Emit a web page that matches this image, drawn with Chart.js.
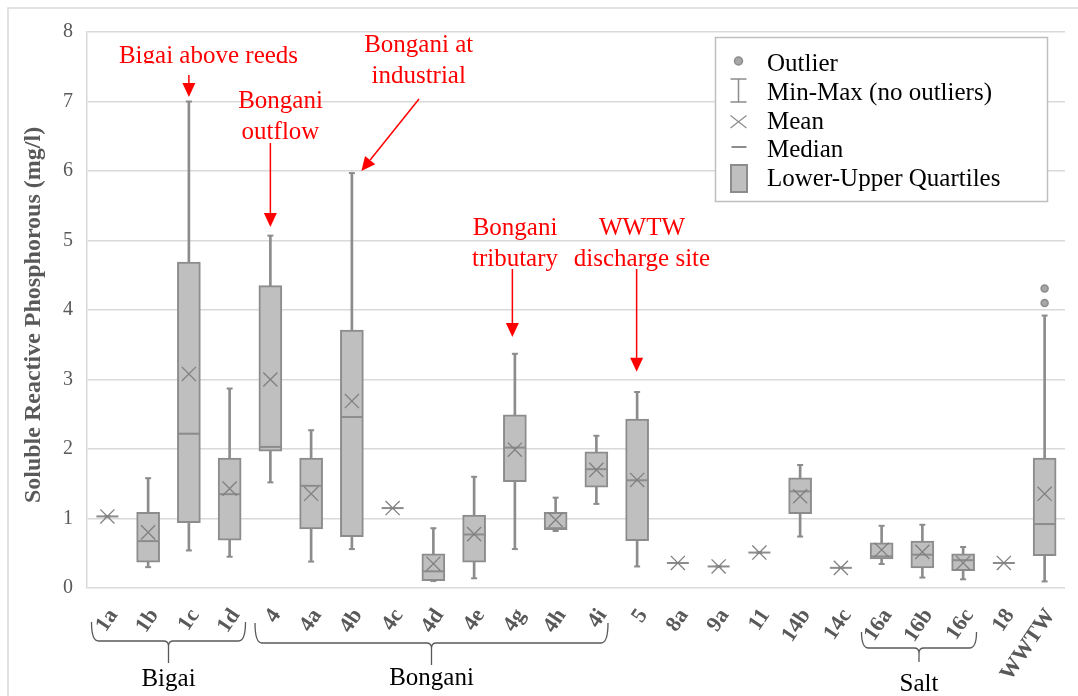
<!DOCTYPE html>
<html>
<head>
<meta charset="utf-8">
<script src="https://cdn.jsdelivr.net/npm/chart.js@4.4.1/dist/chart.umd.min.js"></script>
<style>
  html, body { margin: 0; padding: 0; background: #fff; }
  #wrap { width: 1078px; height: 696px; position: relative; }
</style>
</head>
<body>
<div id="wrap"><canvas id="c" width="1078" height="696"></canvas></div>
<script>
// Sampling sites along the river system
const sites = ['1a','1b','1c','1d','4','4a','4b','4c','4d','4e','4g','4h','4i','5','8a','9a','11','14b','14c','16a','16b','16c','18','WWTW'];

// Soluble reactive phosphorous summary statistics per site (mg/l)
const minVals    = [1.03, 0.30, 0.54, 0.45, 1.52, 0.38, 0.56, 1.15, 0.10, 0.14, 0.56, 0.82, 1.21, 0.31, 0.36, 0.31, 0.51, 0.74, 0.29, 0.345, 0.15, 0.125, 0.36, 0.095];
const q1Vals     = [1.03, 0.37, 0.94, 0.69, 1.97, 0.85, 0.74, 1.15, 0.105, 0.37, 1.53, 0.84, 1.45, 0.68, 0.36, 0.31, 0.51, 1.07, 0.29, 0.42, 0.29, 0.25, 0.36, 0.465];
const medianVals = [1.03, 0.675, 2.22, 1.35, 2.03, 1.47, 2.46, 1.15, 0.24, 0.77, 2.02, 0.86, 1.71, 1.55, 0.36, 0.31, 0.51, 1.39, 0.29, 0.455, 0.48, 0.40, 0.36, 0.92];
const q3Vals     = [1.03, 1.09, 4.69, 1.87, 4.35, 1.87, 3.71, 1.15, 0.49, 1.05, 2.49, 1.09, 1.96, 2.43, 0.36, 0.31, 0.51, 1.585, 0.29, 0.65, 0.675, 0.49, 0.36, 1.87];
const maxVals    = [1.03, 1.58, 7.00, 2.87, 5.07, 2.27, 5.97, 1.15, 0.86, 1.60, 3.37, 1.30, 2.19, 2.82, 0.36, 0.31, 0.51, 1.77, 0.29, 0.895, 0.91, 0.59, 0.36, 3.92];
const meanVals   = [1.03, 0.80, 3.08, 1.43, 3.00, 1.355, 2.69, 1.15, 0.35, 0.775, 1.99, 0.98, 1.70, 1.555, 0.36, 0.31, 0.51, 1.32, 0.29, 0.55, 0.52, 0.36, 0.36, 1.355];

// Outliers
const outlierSites = ['WWTW', 'WWTW'];
const outlierVals  = [4.31, 4.10];

// Y axis ticks
const yTicks = [0, 1, 2, 3, 4, 5, 6, 7, 8];

// Legend entries
const legendItems = ['Outlier', 'Min-Max (no outliers)', 'Mean', 'Median', 'Lower-Upper Quartiles'];

// Site groupings shown under the axis
const groups = [
  { name: 'Bigai',   x0: 91.5,  x1: 245.5, top: 622, mid: 641, tip: 663, ty: 686 },
  { name: 'Bongani', x0: 255,   x1: 608,   top: 623, mid: 643, tip: 665, ty: 685 },
  { name: 'Salt',    x0: 861.5, x1: 976.5, top: 632, mid: 648, tip: 662, ty: 691 }
];

// Callout notes with arrows pointing at sites
const notes = [
  { lines: ['Bigai above reeds'], cx: 208.5, base: [62.5], clip: 63.5, site: '1c', val: 7.065, dx: 0, fromY: 75 },
  { lines: ['Bongani', 'outflow'], cx: 280.5, base: [107.5, 138.5], site: '4', val: 5.195, dx: 0, fromY: 143 },
  { lines: ['Bongani at', 'industrial'], cx: 418.7, base: [51.7, 82.7], site: '4b', val: 6.0, dx: 9.5, from: [419, 99] },
  { lines: ['Bongani', 'tributary'], cx: 515, base: [235, 265.5], site: '4g', val: 3.61, dx: -2.5, fromY: 269 },
  { lines: ['WWTW', 'discharge site'], cx: 642, base: [235, 265.5], site: '5', val: 3.11, dx: -0.5, fromY: 269 }
];

const SERIF = '"Liberation Serif", "Times New Roman", serif';
const BOX_FILL = '#bfbfbf';
const BOX_EDGE = '#8c8c8c';
const AXIS_TEXT = '#595959';

const decor = {
  id: 'decor',
  beforeDraw(chart) {
    const ctx = chart.ctx;
    ctx.save();
    ctx.fillStyle = '#fff';
    ctx.fillRect(0, 0, chart.width, chart.height);
    // outer frame
    ctx.strokeStyle = '#d9d9d9';
    ctx.lineWidth = 1.5;
    ctx.beginPath();
    ctx.moveTo(8, chart.height);
    ctx.lineTo(8, 8);
    ctx.lineTo(chart.width, 8);
    ctx.stroke();
    ctx.restore();
  },
  afterDraw(chart) {
    const ctx = chart.ctx;
    const xS = chart.scales.x, yS = chart.scales.y;

    // ---- y axis title ----
    ctx.save();
    ctx.translate(33.5, (yS.top + yS.bottom) / 2 + 5);
    ctx.rotate(-Math.PI / 2);
    ctx.fillStyle = AXIS_TEXT;
    ctx.font = 'bold 24px ' + SERIF;
    ctx.textAlign = 'center';
    ctx.textBaseline = 'middle';
    ctx.fillText('Soluble Reactive Phosphorous (mg/l)', 0, 0);
    ctx.restore();

    // ---- legend ----
    ctx.save();
    const lx = 715.5, ly = 37.5, lw = 332, lh = 164;
    ctx.fillStyle = '#fff';
    ctx.fillRect(lx, ly, lw, lh);
    ctx.strokeStyle = '#bfbfbf';
    ctx.lineWidth = 1.5;
    ctx.strokeRect(lx, ly, lw, lh);
    const ix = 738.5;
    // outlier dot
    ctx.beginPath();
    ctx.arc(ix, 61, 4, 0, Math.PI * 2);
    ctx.fillStyle = '#a6a6a6';
    ctx.fill();
    ctx.strokeStyle = BOX_EDGE;
    ctx.lineWidth = 1.5;
    ctx.stroke();
    // min-max I-beam
    ctx.beginPath();
    ctx.moveTo(ix, 79); ctx.lineTo(ix, 102);
    ctx.moveTo(730.5, 79); ctx.lineTo(746.5, 79);
    ctx.moveTo(730.5, 102); ctx.lineTo(746.5, 102);
    ctx.stroke();
    // mean cross
    ctx.lineWidth = 1.2;
    ctx.beginPath();
    ctx.moveTo(730.5, 115.5); ctx.lineTo(746.5, 128);
    ctx.moveTo(746.5, 115.5); ctx.lineTo(730.5, 128);
    ctx.stroke();
    // median dash
    ctx.lineWidth = 2;
    ctx.beginPath();
    ctx.moveTo(731.5, 147); ctx.lineTo(746.5, 147);
    ctx.stroke();
    // quartile box
    ctx.fillStyle = BOX_FILL;
    ctx.fillRect(730, 164, 18, 29);
    ctx.strokeRect(731, 165, 16, 27);
    ctx.fillStyle = '#000';
    ctx.font = '25px ' + SERIF;
    ctx.textAlign = 'left';
    ctx.textBaseline = 'alphabetic';
    const bases = [71, 100, 128.5, 157, 185.5];
    legendItems.forEach((t, i) => ctx.fillText(t, 767, bases[i]));
    ctx.restore();

    // ---- callouts ----
    ctx.save();
    ctx.fillStyle = '#ff0000';
    ctx.strokeStyle = '#ff0000';
    ctx.lineWidth = 1.5;
    ctx.font = '25px ' + SERIF;
    ctx.textAlign = 'center';
    ctx.textBaseline = 'alphabetic';
    notes.forEach(n => {
      ctx.save();
      if (n.clip) {
        ctx.beginPath();
        ctx.rect(0, 0, chart.width, n.clip);
        ctx.clip();
      }
      n.lines.forEach((t, i) => ctx.fillText(t, n.cx, n.base[i]));
      ctx.restore();
      const tx = xS.getPixelForValue(sites.indexOf(n.site)) + n.dx;
      const ty = yS.getPixelForValue(n.val);
      const sx = n.from ? n.from[0] : tx;
      const sy = n.from ? n.from[1] : n.fromY;
      const ang = Math.atan2(ty - sy, tx - sx);
      const hl = 14, hw = 6.5;
      const bx = tx - Math.cos(ang) * hl, by = ty - Math.sin(ang) * hl;
      ctx.beginPath();
      ctx.moveTo(sx, sy);
      ctx.lineTo(bx, by);
      ctx.stroke();
      ctx.beginPath();
      ctx.moveTo(tx, ty);
      ctx.lineTo(bx + Math.sin(ang) * hw, by - Math.cos(ang) * hw);
      ctx.lineTo(bx - Math.sin(ang) * hw, by + Math.cos(ang) * hw);
      ctx.closePath();
      ctx.fill();
    });
    ctx.restore();

    // ---- group braces ----
    ctx.save();
    ctx.strokeStyle = '#595959';
    ctx.lineWidth = 1.3;
    ctx.fillStyle = '#000';
    ctx.font = '25px ' + SERIF;
    ctx.textAlign = 'center';
    ctx.textBaseline = 'alphabetic';
    groups.forEach(g => {
      const cx = (g.x0 + g.x1) / 2, r = 7, r2 = 5;
      ctx.beginPath();
      ctx.moveTo(g.x0, g.top);
      ctx.quadraticCurveTo(g.x0, g.mid, g.x0 + r, g.mid);
      ctx.lineTo(cx - r2, g.mid);
      ctx.quadraticCurveTo(cx, g.mid, cx, g.mid + r2);
      ctx.lineTo(cx, g.tip);
      ctx.moveTo(cx, g.mid + r2);
      ctx.quadraticCurveTo(cx, g.mid, cx + r2, g.mid);
      ctx.lineTo(g.x1 - r, g.mid);
      ctx.quadraticCurveTo(g.x1, g.mid, g.x1, g.top);
      ctx.stroke();
      ctx.fillText(g.name, cx, g.ty);
    });
    ctx.restore();
  }
};

const pointSet = (label, values, style, radius, width, order, color) => ({
  type: 'line',
  label,
  data: values,
  showLine: false,
  pointStyle: style,
  pointRadius: radius,
  pointHoverRadius: radius,
  pointBorderWidth: width,
  pointBorderColor: color || BOX_EDGE,
  pointBackgroundColor: color || BOX_EDGE,
  order
});

new Chart(document.getElementById('c'), {
  type: 'bar',
  data: {
    labels: sites,
    datasets: [
      {
        label: 'Lower-Upper Quartiles',
        data: sites.map((_, i) => [q1Vals[i], q3Vals[i]]),
        backgroundColor: BOX_FILL,
        borderColor: BOX_EDGE,
        borderWidth: 2,
        borderSkipped: false,
        barThickness: 23,
        grouped: false,
        order: 2
      },
      {
        label: 'Min-Max (no outliers)',
        data: sites.map((_, i) => [minVals[i], maxVals[i]]),
        backgroundColor: BOX_EDGE,
        borderWidth: 0,
        barThickness: 2,
        grouped: false,
        order: 4
      },
      pointSet('Max', maxVals, 'line', 3, 2, 3),
      pointSet('Min', minVals, 'line', 3, 2, 3),
      pointSet('Median', medianVals, 'line', 11, 2, 1),
      pointSet('Mean', meanVals, 'crossRot', 10, 1.3, 0, '#808080'),
      {
        type: 'line',
        label: 'Outlier',
        data: outlierSites.map((s, i) => ({ x: s, y: outlierVals[i] })),
        showLine: false,
        pointStyle: 'circle',
        pointRadius: 3.5,
        pointBorderWidth: 1.5,
        pointBorderColor: BOX_EDGE,
        pointBackgroundColor: '#a6a6a6',
        order: 0
      }
    ]
  },
  options: {
    responsive: false,
    animation: false,
    devicePixelRatio: 1,
    layout: { padding: { top: 32, right: 7, bottom: 0, left: 0 } },
    plugins: { legend: { display: false }, tooltip: { enabled: false } },
    scales: {
      x: {
        type: 'category',
        offset: true,
        grid: { display: false },
        border: { display: false },
        ticks: {
          autoSkip: false,
          minRotation: 56,
          maxRotation: 56,
          padding: 8,
          labelOffset: 6,
          color: AXIS_TEXT,
          font: { family: SERIF, size: 22, weight: 'bold' }
        },
        afterFit(s) { s.height = 108; }
      },
      y: {
        min: 0,
        max: 8,
        afterBuildTicks(s) { s.ticks = yTicks.map(v => ({ value: v })); },
        ticks: {
          padding: 14,
          color: AXIS_TEXT,
          font: { family: SERIF, size: 20 }
        },
        grid: { color: '#d9d9d9', lineWidth: 1.5, drawTicks: false },
        border: { display: true, color: '#d9d9d9', width: 1.5 },
        title: { display: false },
        afterFit(s) { s.width = 87; }
      }
    }
  },
  plugins: [decor]
});
</script>
</body>
</html>
